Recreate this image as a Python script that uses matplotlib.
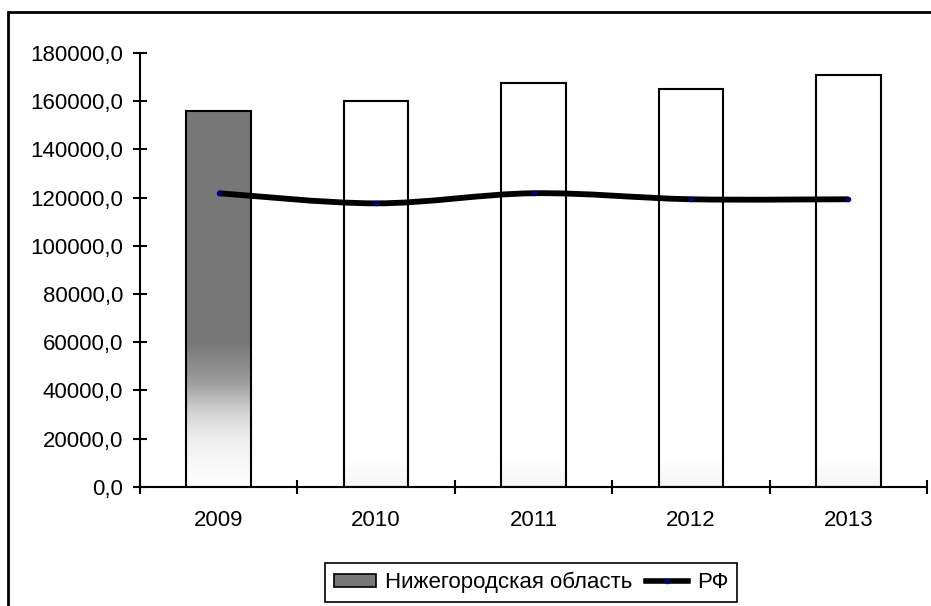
import numpy as np
import matplotlib
matplotlib.use('Agg')
import matplotlib.pyplot as plt
from matplotlib.path import Path
from matplotlib.patches import PathPatch, Rectangle, Patch
from matplotlib.lines import Line2D
from matplotlib.colors import LinearSegmentedColormap
from matplotlib.ticker import FuncFormatter, FixedLocator

plt.rcParams['font.family'] = ['Liberation Sans', 'DejaVu Sans']
plt.rcParams['font.size'] = 16

years = ['2009', '2010', '2011', '2012', '2013']
region_vals = [156000, 160000, 167500, 165000, 170900]
rf_vals = [121800, 117600, 121800, 119300, 119300]
region_name = 'Нижегородская область'
rf_name = 'РФ'

fig = plt.figure(figsize=(9.31, 6.06), dpi=100)
ax = fig.add_axes([140 / 931, 1 - 486.7 / 606, 787 / 931, (486.7 - 53) / 606])

x = np.arange(len(years))
bar_w = 0.41

# gradients: first bar gray fading to white at the bottom, others white with a faint bottom tint
grad_first = LinearSegmentedColormap.from_list('g1', [(0.0, '#ffffff'), (0.12, '#f0f0f0'), (0.2, '#d2d2d2'),
                                                     (0.28, '#9c9c9c'), (0.38, '#787878'), (1.0, '#777777')])
grad_rest = LinearSegmentedColormap.from_list('g2', [(0.0, '#f5f5f5'), (0.07, '#ffffff'), (1.0, '#ffffff')])
bars = ax.bar(x, region_vals, width=bar_w, color='none', edgecolor='black', linewidth=1.5, zorder=3)
col = np.linspace(0, 1, 256).reshape(-1, 1)
for i, b in enumerate(bars):
    cmap = grad_first if i == 0 else grad_rest
    im = ax.imshow(col, cmap=cmap, origin='lower', aspect='auto', vmin=0, vmax=1,
                   extent=(b.get_x(), b.get_x() + b.get_width(), 0, b.get_height()), zorder=2)
    im.set_clip_path(b)

# smoothed line (Catmull-Rom style Bezier through the data points)
pts = np.column_stack([x, rf_vals]).astype(float)
ext = np.vstack([pts[0], pts, pts[-1]])
verts = [tuple(pts[0])]
codes = [Path.MOVETO]
for i in range(len(pts) - 1):
    p0, p1, p2, p3 = ext[i], ext[i + 1], ext[i + 2], ext[i + 3]
    c1 = p1 + (p2 - p0) / 6
    c2 = p2 - (p3 - p1) / 6
    verts += [tuple(c1), tuple(c2), tuple(p2)]
    codes += [Path.CURVE4] * 3
ax.add_patch(PathPatch(Path(verts, codes), fill=False, edgecolor='black', lw=4.2, zorder=4,
                       capstyle='butt'))
ax.plot(x, rf_vals, linestyle='none', marker='o', ms=3, color='#000080', zorder=5)

ax.set_xlim(-0.5, len(years) - 0.5)
ax.set_ylim(0, 180000)
ax.set_yticks(np.arange(0, 180001, 20000))
ax.yaxis.set_major_formatter(FuncFormatter(lambda v, p: f'{v:.1f}'.replace('.', ',')))
ax.xaxis.set_major_locator(FixedLocator(np.arange(-0.5, len(years), 1.0)))
ax.xaxis.set_major_formatter(FuncFormatter(lambda v, p: ''))
ax.xaxis.set_minor_locator(FixedLocator(x))
ax.set_xticklabels(years, minor=True)
ax.tick_params(axis='x', which='minor', length=0, pad=17, labelsize=16)
ax.tick_params(axis='x', which='major', direction='inout', length=10, width=1.5)
ax.tick_params(axis='y', direction='inout', length=10, width=1.5, pad=7, labelsize=16)
for s in ['top', 'right']:
    ax.spines[s].set_visible(False)
for s in ['left', 'bottom']:
    ax.spines[s].set_linewidth(1.5)
ax.patch.set_alpha(0)

# outer chart border
fig.patches.append(Rectangle((8 / 931, -0.05), 1.0, 1 - 12 / 606 + 0.05, transform=fig.transFigure,
                             fill=False, edgecolor='black', lw=2))

handles = [Patch(facecolor='#777777', edgecolor='black', lw=1.2),
           Line2D([], [], color='black', lw=4, marker='o', ms=3, mfc='#000080', mec='#000080')]
leg = fig.legend(handles, [region_name, rf_name], loc='center', bbox_to_anchor=(531 / 931, 1 - 582.5 / 606),
                 ncol=2, frameon=True, fancybox=False, edgecolor='black', framealpha=1,
                 handlelength=1.9, handleheight=0.5, handletextpad=0.4, columnspacing=0.6,
                 borderpad=0.4, fontsize=16)
leg.get_frame().set_linewidth(1.2)

fig.savefig('out.png', dpi=100)
